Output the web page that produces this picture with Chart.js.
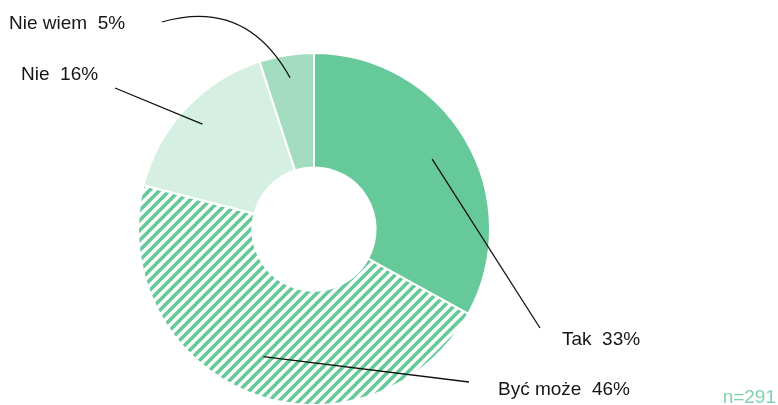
<!DOCTYPE html>
<html lang="pl">
<head>
<meta charset="utf-8">
<title>Wykres</title>
<script src="https://cdn.jsdelivr.net/npm/chart.js@4"></script>
<style>
  html, body { margin: 0; padding: 0; background: #fff; overflow: hidden; }
  #wrap { position: absolute; left: 0; top: 0; width: 778px; height: 420px; }
</style>
</head>
<body>
<div id="wrap"><canvas id="donut"></canvas></div>
<script>
// Dane
const kategorie = ['Tak', 'Być może', 'Nie', 'Nie wiem'];
const wartosci = [33, 46, 16, 5];
const kolory = ['#66c999', 'hatch', '#d5efe2', '#a3dcc0'];
const proba = 'n=291';

// Pozycje podpisów (tekst + koniec linii)
const podpisy = [
  { x: 562, y: 345, lx: 540, ly: 328, r: 0.78 },
  { x: 498, y: 395, lx: 469, ly: 382, r: 0.78 },
  { x: 21, y: 80, lx: 115, ly: 88, r: 0.87 },
  { x: 9, y: 29, lx: 162, ly: 22, r: 0.87, cx: 246, cy: -2 }
];

function hatch(color) {
  const s = 10;
  const c = document.createElement('canvas');
  c.width = s; c.height = s;
  const g = c.getContext('2d');
  g.strokeStyle = color;
  g.lineWidth = 3.6;
  g.beginPath();
  g.moveTo(-2, s + 2); g.lineTo(s + 2, -2);
  g.moveTo(-2, 2); g.lineTo(2, -2);
  g.moveTo(s - 2, s + 2); g.lineTo(s + 2, s - 2);
  g.stroke();
  return g.createPattern(c, 'repeat');
}

const labelsPlugin = {
  id: 'labelsPlugin',
  afterDatasetsDraw(chart) {
    const ctx = chart.ctx;
    const arcs = chart.getDatasetMeta(0).data;
    ctx.save();
    ctx.strokeStyle = '#111';
    ctx.lineWidth = 1.3;
    arcs.forEach((arc, i) => {
      const p = podpisy[i];
      const mid = (arc.startAngle + arc.endAngle) / 2;
      const rr = arc.outerRadius * p.r;
      const ax = arc.x + Math.cos(mid) * rr;
      const ay = arc.y + Math.sin(mid) * rr;
      ctx.beginPath();
      ctx.moveTo(p.lx, p.ly);
      if (p.cx !== undefined) ctx.quadraticCurveTo(p.cx, p.cy, ax, ay);
      else ctx.lineTo(ax, ay);
      ctx.stroke();
    });
    ctx.font = '19px "Liberation Sans", Arial, sans-serif';
    ctx.fillStyle = '#161616';
    ctx.textBaseline = 'alphabetic';
    ctx.textAlign = 'left';
    kategorie.forEach((k, i) => {
      ctx.fillText(k + '  ' + wartosci[i] + '%', podpisy[i].x, podpisy[i].y);
    });
    ctx.fillStyle = '#7fd3a9';
    ctx.textAlign = 'right';
    ctx.fillText(proba, 776, 403);
    ctx.restore();
  }
};

document.addEventListener('DOMContentLoaded', () => {
  const bg = kolory.map(c => c === 'hatch' ? hatch('#66c999') : c);

  new Chart(document.getElementById('donut').getContext('2d'), {
    type: 'doughnut',
    data: {
      labels: kategorie,
      datasets: [{
        data: wartosci,
        backgroundColor: bg,
        borderColor: '#ffffff',
        borderWidth: 2
      }]
    },
    options: {
      responsive: true,
      maintainAspectRatio: false,
      animation: false,
      cutout: '35%',
      layout: { padding: { top: 51, bottom: 13, left: 137, right: 287 } },
      plugins: {
        legend: { display: false },
        tooltip: { enabled: false }
      }
    },
    plugins: [labelsPlugin]
  });
});
</script>
</body>
</html>
